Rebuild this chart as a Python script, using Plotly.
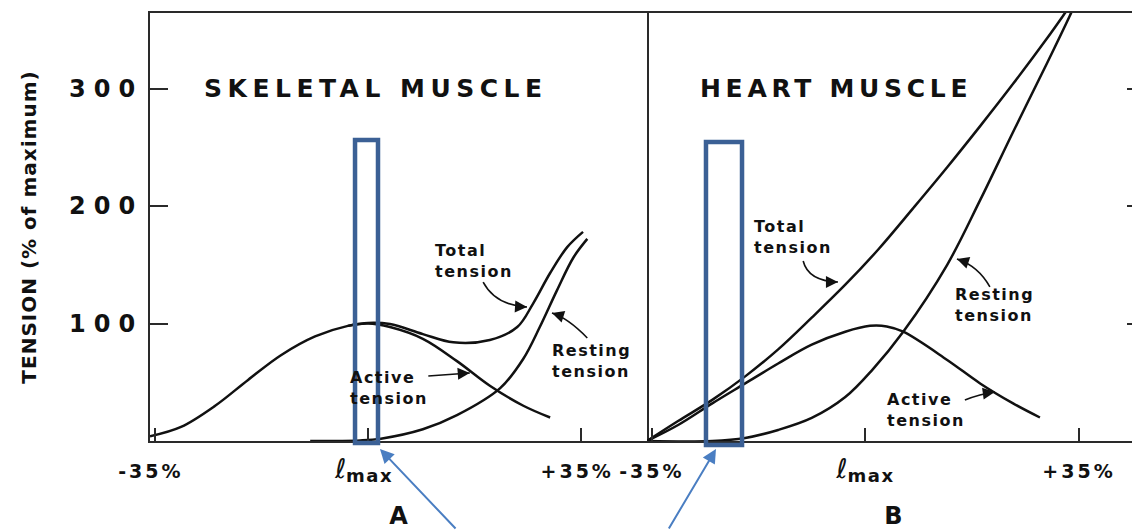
import plotly.graph_objects as go

# ---------------- data ----------------
# Panel A : skeletal muscle  (x = % change from l_max, y = tension % of maximum)
sk_active_x = [-35.8, -30.7, -25.1, -19.7, -14.3, -8.7, -3.3, 0, 3.6, 9.0, 14.6, 20.0, 25.5, 29.9]
sk_active_y = [4, 12, 30, 52, 73, 89, 98, 100, 97, 87, 68, 47, 30, 20]
sk_total_x = [-3.3, 0, 3.6, 9.0, 14.0, 20.0, 24.5, 27.1, 29.9, 32.7, 35.3]
sk_total_y = [98, 100.5, 99.5, 91, 84, 86, 97, 117, 143, 165, 178]
sk_rest_x = [-9.5, -1.3, 2.1, 9.0, 14.6, 21.7, 25.5, 28.2, 31.0, 33.7, 36.0]
sk_rest_y = [0, 0.5, 2, 10, 22, 45, 70, 97, 128, 156, 172]

# Panel B : heart muscle
ht_total_x = [-35.8, -30.7, -25.1, -19.7, -14.3, -8.8, -3.3, 2.1, 7.8, 13.4, 18.8, 24.2, 29.8, 32.4, 34.0]
ht_total_y = [0, 17, 35, 55, 78, 105, 133, 163, 198, 233, 268, 304, 343, 362, 374]
ht_active_x = [-35.8, -30.7, -25.1, -19.7, -14.3, -8.8, -3.3, 0.75, 3.5, 6.2, 13.4, 18.8, 24.2, 28.6]
ht_active_y = [0, 13.6, 32, 49, 66, 82, 93, 98, 97.5, 93, 69, 49, 32, 20]
ht_rest_x = [-35.8, -25.1, -19.7, -14.3, -8.8, -3.3, 1.1, 6.2, 13.4, 18.8, 24.2, 29.8, 33.5, 34.8]
ht_rest_y = [0, 0, 2.6, 9.4, 19.6, 37.4, 60.4, 93, 150, 205, 263, 322, 362, 377]

x_tickvals = [-35, 0, 35]
x_ticktext = ["-35%", "ℓmax", "+35%"]
y_tickvals = [100, 200, 300]
y_ticktext = ["100", "200", "300"]

FONT = "DejaVu Sans"
INK = "#111111"
FRAME = "#2a2a2a"


def spaced(t, ls):
    return f'<span style="letter-spacing:{ls}px">{t}</span>'


def xlabel(t):
    if t.startswith("ℓ"):
        return ('<span style="font-size:27px">ℓ</span><sub>'
                '<span style="font-size:18px;letter-spacing:1.5px"><b>' + t[1:] + '</b></span></sub>')
    return spaced(f"<b>{t}</b>", 3)


fig = go.Figure()


def curve(x, y, xa, ya):
    fig.add_trace(go.Scatter(x=x, y=y, xaxis=xa, yaxis=ya, mode="lines",
                             line=dict(color=INK, width=2.5, shape="spline", smoothing=1.0),
                             hoverinfo="skip", showlegend=False))


curve(sk_active_x, sk_active_y, "x", "y")
curve(sk_total_x, sk_total_y, "x", "y")
curve(sk_rest_x, sk_rest_y, "x", "y")
curve(ht_total_x, ht_total_y, "x2", "y2")
curve(ht_active_x, ht_active_y, "x2", "y2")
curve(ht_rest_x, ht_rest_y, "x2", "y2")

tick_font = dict(family=FONT, size=19, color=INK)
xt = [xlabel(t) for t in x_ticktext]
ab_font = dict(family=FONT, size=24, color=INK)

# the page body adds an 8 px offset, so the figure is 8 px smaller than the window
fig.update_layout(
    width=1132, height=522,
    margin=dict(l=142, r=0, t=5, b=89),
    paper_bgcolor="white", plot_bgcolor="white",
    showlegend=False,
    xaxis=dict(domain=[0, 0.502], range=[-35.8, 45.8], showgrid=False, zeroline=False,
               showline=True, linecolor=FRAME, linewidth=2, mirror=True,
               tickvals=x_tickvals, ticktext=xt, ticks="inside", ticklen=13,
               tickwidth=2, tickcolor=FRAME, tickfont=tick_font, ticklabelstandoff=12,
               ticklabelshift=-4,
               title=dict(text="<b>A</b>", font=ab_font, standoff=24),
               automargin=False, fixedrange=True),
    xaxis2=dict(domain=[0.502, 1], range=[-35.8, 45], showgrid=False, zeroline=False,
                showline=True, linecolor=FRAME, linewidth=2, mirror=True, anchor="y2",
                tickvals=x_tickvals, ticktext=xt, ticks="inside", ticklen=13,
                tickwidth=2, tickcolor=FRAME, tickfont=tick_font, ticklabelstandoff=12,
                title=dict(text="<b>B</b>", font=ab_font, standoff=24),
                automargin=False, fixedrange=True),
    yaxis=dict(range=[0, 364.3], showgrid=False, zeroline=False, anchor="x",
               showline=True, linecolor=FRAME, linewidth=2, mirror=True,
               tickvals=y_tickvals, ticktext=[spaced(f"<b>{t}</b>", 8) for t in y_ticktext],
               ticks="inside", ticklen=18, tickwidth=2, tickcolor=FRAME,
               tickfont=dict(family=FONT, size=24, color=INK), ticklabelstandoff=0,
               title=dict(text=spaced("<b>TENSION (% of maximum)</b>", 1),
                          font=dict(family=FONT, size=20, color=INK), standoff=27),
               automargin=False, fixedrange=True),
    yaxis2=dict(range=[0, 364.3], matches="y", anchor="x2", side="right",
                showgrid=False, zeroline=False, showline=False,
                tickvals=y_tickvals, ticks="inside", ticklen=13, tickwidth=2,
                tickcolor=FRAME, showticklabels=False, automargin=False, fixedrange=True),
)

# panel titles
title_font = dict(family=FONT, size=25, color=INK)
fig.add_annotation(x=-27.3, y=300, xref="x", yref="y", text=spaced("<b>SKELETAL MUSCLE</b>", 5.5),
                   showarrow=False, xanchor="left", yanchor="middle", font=title_font)
fig.add_annotation(x=-27.4, y=300, xref="x2", yref="y2", text=spaced("<b>HEART MUSCLE</b>", 4.7),
                   showarrow=False, xanchor="left", yanchor="middle", font=title_font)

# curve labels
lab_font = dict(family=FONT, size=16, color=INK)
labels = [
    ("x", "y", 10.7, 153, "Total<br>tension"),
    ("x", "y", 29.9, 68, "Resting<br>tension"),
    ("x", "y", -3.3, 45.5, "Active<br>tension"),
    ("x2", "y2", -18.6, 173.6, "Total<br>tension"),
    ("x2", "y2", 14.4, 115.7, "Resting<br>tension"),
    ("x2", "y2", 3.2, 26.4, "Active<br>tension"),
]
for xr, yr, lx, ly, t in labels:
    fig.add_annotation(x=lx, y=ly, xref=xr, yref=yr, text=spaced(f"<b>{t}</b>", 1.5),
                       showarrow=False, xanchor="left", yanchor="middle", align="left",
                       font=lab_font)

# pointer arrows (curved stems + heads)
pointers = [
    ("x", "y", (18.9, 135.3), (20.9, 115.7), (26.1, 114.0), (-9, -0.5)),
    ("x", "y", (36.0, 87.7), (32.8, 104.7), (30.2, 108.9), (8.5, 2.7)),
    ("x", "y", (9.9, 55.3), (13.3, 56.6), (16.7, 57.9), (-9, 0.6)),
    ("x2", "y2", (-10.2, 153.2), (-9.4, 136.2), (-4.5, 135.3), (-9, 0)),
    ("x2", "y2", (20.4, 131.1), (18.5, 148.9), (15.0, 154.9), (8.5, 2.8)),
    ("x2", "y2", (16.3, 34.9), (18.8, 40.0), (21.2, 41.7), (-9, 1.2)),
]
for xr, yr, p0, pc, p1, off in pointers:
    fig.add_shape(type="path", xref=xr, yref=yr,
                  path=f"M {p0[0]},{p0[1]} Q {pc[0]},{pc[1]} {p1[0]},{p1[1]}",
                  line=dict(color=INK, width=1.6))
    fig.add_annotation(x=p1[0], y=p1[1], xref=xr, yref=yr, ax=off[0], ay=off[1],
                       axref="pixel", ayref="pixel", text="", showarrow=True,
                       arrowhead=2, arrowsize=1.6, arrowwidth=1.5, arrowcolor=INK)

# blue presentation overlays (paper coordinates)
BOX = "#3B6095"
ARW = "#4A7EC2"
fig.add_shape(type="rect", xref="paper", yref="paper", x0=0.2071, x1=0.2303, y0=-0.0047, y1=0.7033,
              line=dict(color=BOX, width=4.5))
fig.add_shape(type="rect", xref="paper", yref="paper", x0=0.5616, x1=0.5980, y0=-0.0093, y1=0.6986,
              line=dict(color=BOX, width=4.5))
fig.add_annotation(x=0.2323, y=-0.0187, xref="paper", yref="paper", ax=77, ay=86,
                   axref="pixel", ayref="pixel", text="", showarrow=True,
                   arrowhead=2, arrowsize=1.4, arrowwidth=2, arrowcolor=ARW)
fig.add_annotation(x=0.5717, y=-0.0187, xref="paper", yref="paper", ax=-48, ay=86,
                   axref="pixel", ayref="pixel", text="", showarrow=True,
                   arrowhead=2, arrowsize=1.4, arrowwidth=2, arrowcolor=ARW)

fig.write_html("out.html")
